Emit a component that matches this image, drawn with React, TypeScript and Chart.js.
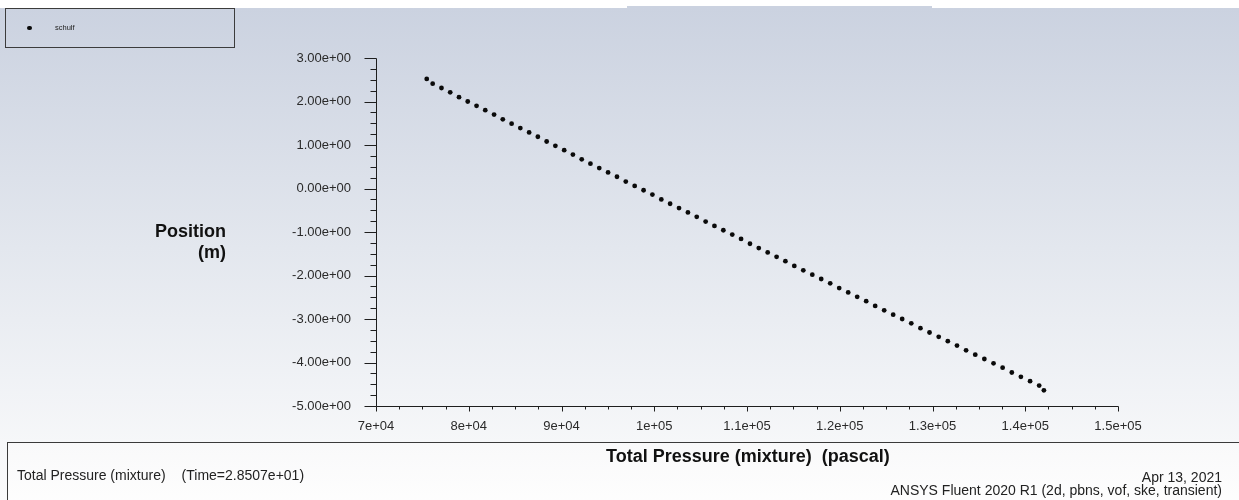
import React, { useEffect, useRef } from 'react';
import { Chart, registerables } from 'chart.js';

Chart.register(...registerables);

// Total pressure (Pa) along the line
const pressure = [
  75470, 76110, 77060, 78000, 78950, 79890, 80840, 81780, 82730, 83670,
  84620, 85560, 86510, 87450, 88400, 89340, 90290, 91230, 92180, 93120,
  94070, 95020, 95980, 96930, 97890, 98850, 99800, 100760, 101710, 102670,
  103630, 104580, 105540, 106490, 107450, 108410, 109360, 110320, 111270, 112230,
  113190, 114140, 115100, 116070, 117040, 118000, 118970, 119940, 120910, 121880,
  122850, 123820, 124790, 125760, 126730, 127710, 128700, 129680, 130670, 131650,
  132640, 133620, 134610, 135590, 136580, 137560, 138550, 139530, 140520, 141500,
  142010,
];

// Position (m)
const position = [
  2.52, 2.41, 2.31, 2.21, 2.10, 2.00, 1.90, 1.80, 1.70, 1.59,
  1.49, 1.39, 1.29, 1.19, 1.08, 0.98, 0.88, 0.78, 0.67, 0.57,
  0.47, 0.37, 0.27, 0.16, 0.06, -0.04, -0.14, -0.25, -0.35, -0.45,
  -0.55, -0.65, -0.76, -0.86, -0.96, -1.06, -1.16, -1.27, -1.37, -1.47,
  -1.57, -1.67, -1.78, -1.88, -1.98, -2.08, -2.18, -2.29, -2.39, -2.49,
  -2.59, -2.70, -2.80, -2.90, -3.00, -3.10, -3.21, -3.31, -3.41, -3.51,
  -3.61, -3.72, -3.82, -3.92, -4.02, -4.12, -4.23, -4.33, -4.43, -4.53,
  -4.64,
];

const seriesName = 'schulf';
const xRange = [70000, 150000];
const xMajorStep = 10000;
const xMinorStep = 2500;
const yRange = [-5, 3];
const yMajorStep = 1;
const yMinorStep = 0.25;

const xTitle = 'Total Pressure (mixture)  (pascal)';
const yTitle = ['Position', '(m)'];
const footerLeft = ['Total Pressure (mixture)', '(Time=2.8507e+01)'];
const footerRight = ['Apr 13, 2021', 'ANSYS Fluent 2020 R1 (2d, pbns, vof, ske, transient)'];

const FONT = '"Liberation Sans", Arial, Helvetica, sans-serif';

function fmtExp(v: number, digits?: number): string {
  const s = digits === undefined ? Number(v.toPrecision(10)).toExponential() : v.toExponential(digits);
  const [m, e] = s.split('e');
  const sign = e[0];
  const num = e.slice(1).padStart(2, '0');
  return `${m}e${sign}${num}`;
}

const axesPlugin = {
  id: 'fluentAxes',
  afterDraw(chart: any) {
    const { ctx, chartArea } = chart;
    const xs = chart.scales.x;
    const ys = chart.scales.y;
    ctx.save();
    ctx.strokeStyle = '#1e1e1e';
    ctx.lineWidth = 1;
    ctx.beginPath();
    const ax = Math.round(chartArea.left) + 0.5;
    const ay = Math.round(chartArea.bottom) + 0.5;
    ctx.moveTo(ax, Math.round(chartArea.top) + 0.5);
    ctx.lineTo(ax, ay);
    ctx.moveTo(ax, ay);
    ctx.lineTo(Math.round(chartArea.right) + 0.5, ay);
    for (let v = yRange[0]; v <= yRange[1] + 1e-9; v += yMinorStep) {
      const py = Math.round(ys.getPixelForValue(v)) + 0.5;
      const major = Math.abs(v / yMajorStep - Math.round(v / yMajorStep)) < 1e-9;
      ctx.moveTo(ax - (major ? 12 : 6), py);
      ctx.lineTo(ax, py);
    }
    for (let v = xRange[0]; v <= xRange[1] + 1e-6; v += xMinorStep) {
      const px = Math.round(xs.getPixelForValue(v)) + 0.5;
      const major = Math.abs(v / xMajorStep - Math.round(v / xMajorStep)) < 1e-9;
      ctx.moveTo(px, ay);
      ctx.lineTo(px, ay + (major ? 5 : 3));
    }
    ctx.stroke();
    ctx.restore();
  },
};

export default function App() {
  const canvasRef = useRef<HTMLCanvasElement | null>(null);

  useEffect(() => {
    const canvas = canvasRef.current;
    if (!canvas) return;
    const points = pressure.map((p, i) => ({ x: p, y: position[i] }));
    const chart = new Chart(canvas, {
      type: 'scatter',
      data: {
        datasets: [
          {
            label: seriesName,
            data: points,
            pointRadius: 2.4,
            pointHoverRadius: 2.4,
            pointBorderWidth: 0,
            backgroundColor: '#0a0a0a',
            borderColor: '#0a0a0a',
            showLine: false,
          },
        ],
      },
      options: {
        responsive: false,
        devicePixelRatio: 1,
        animation: false,
        events: [],
        layout: { padding: { left: 0, top: 58, right: 121, bottom: 0 } },
        plugins: {
          legend: { display: false },
          tooltip: { enabled: false },
          title: { display: false },
        },
        scales: {
          x: {
            type: 'linear',
            min: xRange[0],
            max: xRange[1],
            grid: { display: false, drawTicks: false },
            border: { display: false },
            ticks: {
              stepSize: xMajorStep,
              padding: 13,
              color: '#2a2a2a',
              font: { family: FONT, size: 13 },
              maxRotation: 0,
              autoSkip: false,
              callback: (v: any) => fmtExp(Number(v)),
            },
            afterFit: (scale: any) => {
              scale.height = 94;
            },
          },
          y: {
            type: 'linear',
            min: yRange[0],
            max: yRange[1],
            grid: { display: false, drawTicks: false },
            border: { display: false },
            ticks: {
              stepSize: yMajorStep,
              padding: 25,
              color: '#2a2a2a',
              font: { family: FONT, size: 13 },
              autoSkip: false,
              callback: (v: any) => fmtExp(Number(v), 2),
            },
            afterFit: (scale: any) => {
              scale.width = 376;
            },
          },
        },
      },
      plugins: [axesPlugin],
    });
    return () => chart.destroy();
  }, []);

  const abs = (s: React.CSSProperties): React.CSSProperties => ({ position: 'absolute', ...s });

  return (
    <div
      style={{
        position: 'fixed',
        left: 0,
        top: 0,
        width: 1239,
        height: 500,
        overflow: 'hidden',
        background: '#ffffff',
        fontFamily: FONT,
        color: '#111',
      }}
    >
      {/* gradient background */}
      <div
        style={abs({
          left: 0,
          top: 8,
          width: 1239,
          height: 492,
          background: 'linear-gradient(to bottom, #cbd2e0 0px, #e3e7ee 240px, #f6f7f9 434px, #fafafb 492px)',
        })}
      />
      <div style={abs({ left: 627, top: 6, width: 305, height: 2, background: '#cbd2e0' })} />
      {/* bottom info box */}
      <div
        style={abs({
          left: 7,
          top: 442,
          width: 1260,
          height: 80,
          borderTop: '1px solid #3a3a3a',
          borderLeft: '1px solid #3a3a3a',
          background: 'linear-gradient(to bottom, #f9f9fa, #ffffff)',
        })}
      />
      <canvas
        ref={canvasRef}
        width={1239}
        height={500}
        style={abs({ left: 0, top: 0, width: 1239, height: 500, display: 'block' })}
      />
      {/* legend */}
      <div
        style={abs({
          left: 5,
          top: 8,
          width: 228,
          height: 38,
          border: '1px solid #3c3c3c',
        })}
      />
      <div
        style={abs({
          left: 27,
          top: 25.5,
          width: 4.5,
          height: 4.5,
          borderRadius: '50%',
          background: '#0a0a0a',
        })}
      />
      <div style={abs({ left: 55, top: 22.5, fontSize: 7.5, lineHeight: '9px', color: '#222' })}>{seriesName}</div>
      {/* y title */}
      <div
        style={abs({
          left: 0,
          top: 220.5,
          width: 226,
          textAlign: 'right',
          fontSize: 18,
          fontWeight: 'bold',
          lineHeight: '21px',
          color: '#111',
        })}
      >
        <div>{yTitle[0]}</div>
        <div>{yTitle[1]}</div>
      </div>
      {/* x title */}
      <div
        style={abs({
          left: 448,
          top: 446.4,
          width: 600,
          textAlign: 'center',
          fontSize: 18,
          fontWeight: 'bold',
          lineHeight: '20px',
          whiteSpace: 'pre',
          color: '#111',
        })}
      >
        {xTitle}
      </div>
      {/* footer left */}
      <div style={abs({ left: 17, top: 467, fontSize: 14, lineHeight: '16px', whiteSpace: 'pre', color: '#222' })}>
        <span>{footerLeft[0]}</span>
        <span style={{ marginLeft: 16 }}>{footerLeft[1]}</span>
      </div>
      {/* footer right */}
      <div
        style={abs({
          left: 622,
          top: 469,
          width: 600,
          textAlign: 'right',
          fontSize: 14,
          lineHeight: '16px',
          whiteSpace: 'pre',
          color: '#222',
        })}
      >
        {footerRight[0]}
      </div>
      <div
        style={abs({
          left: 622,
          top: 481.5,
          width: 600,
          textAlign: 'right',
          fontSize: 14,
          lineHeight: '16px',
          whiteSpace: 'pre',
          color: '#222',
        })}
      >
        {footerRight[1]}
      </div>
    </div>
  );
}
